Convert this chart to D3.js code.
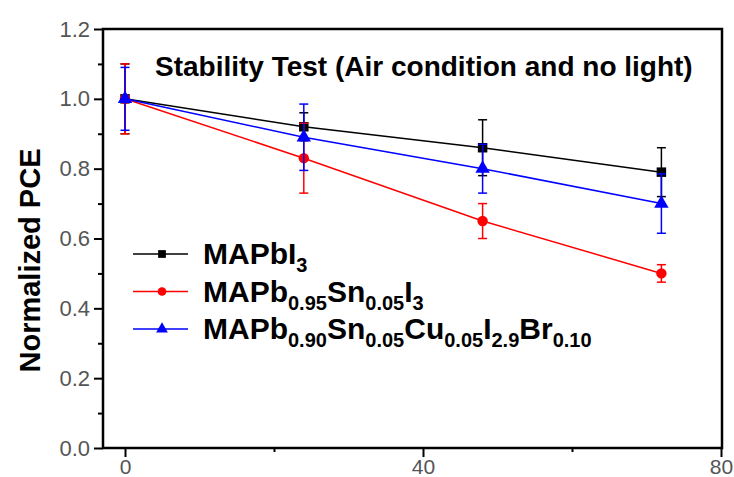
<!DOCTYPE html>
<html>
<head>
<meta charset="utf-8">
<script src="https://cdn.jsdelivr.net/npm/d3@7"></script>
<style>
  body { margin: 0; background: #fff; }
  svg { font-family: "Liberation Sans", Arial, sans-serif; }
  .tick text { fill: #555; }
</style>
</head>
<body>
<div id="chart"></div>
<script>
const hours = [0, 24, 48, 72];
const pbI3 = [1.0, 0.92, 0.86, 0.79];
const pbI3Err = [0.1, 0.04, 0.08, 0.07];
const pbSn = [1.0, 0.83, 0.65, 0.50];
const pbSnErr = [0.1, 0.1, 0.05, 0.025];
const pbSnCu = [1.0, 0.89, 0.80, 0.70];
const pbSnCuErr = [0.09, 0.095, 0.07, 0.085];
const yTicks = [0, 0.2, 0.4, 0.6, 0.8, 1.0, 1.2];
const yMinor = [0.1, 0.3, 0.5, 0.7, 0.9, 1.1];
const xTicks = [0, 40, 80];
const xMinor = [20, 60];

// legend labels: [text, isSubscript]
const series = [
  { name: [['MAPbI', 0], ['3', 1]], values: pbI3, err: pbI3Err, color: '#000', marker: 'square' },
  { name: [['MAPb', 0], ['0.95', 1], ['Sn', 0], ['0.05', 1], ['I', 0], ['3', 1]],
    values: pbSn, err: pbSnErr, color: '#ff0000', marker: 'circle' },
  { name: [['MAPb', 0], ['0.90', 1], ['Sn', 0], ['0.05', 1], ['Cu', 0], ['0.05', 1], ['I', 0], ['2.9', 1], ['Br', 0], ['0.10', 1]],
    values: pbSnCu, err: pbSnCuErr, color: '#0000ff', marker: 'triangle' },
];

const width = 734;
const height = 477;
const margin = { top: 29, right: 12, bottom: 29, left: 103 };

const x = d3.scaleLinear().domain([0, 80]).range([125, 721]);
const y = d3.scaleLinear().domain([0, 1.2]).range([height - margin.bottom, margin.top]);

const svg = d3.select('#chart').append('svg')
  .attr('width', width)
  .attr('height', height);

const symbols = {
  square: d3.symbol().type(d3.symbolSquare).size(90),
  circle: d3.symbol().type(d3.symbolCircle).size(85),
  triangle: d3.symbol().type(d3.symbolTriangle).size(90),
};

// y axis, major and minor ticks
svg.append('g')
  .attr('transform', `translate(${margin.left}, 0)`)
  .call(d3.axisLeft(y).tickValues(yTicks).tickSize(9).tickPadding(4)
    .tickFormat(d3.format('.1f')))
  .call(g => g.select('.domain').remove())
  .call(g => g.selectAll('line').attr('stroke', '#000').attr('stroke-width', 2))
  .call(g => g.selectAll('text').style('font-size', '22px'));

svg.append('g')
  .attr('transform', `translate(${margin.left}, 0)`)
  .call(d3.axisLeft(y).tickValues(yMinor).tickSize(5).tickFormat(''))
  .call(g => g.select('.domain').remove())
  .call(g => g.selectAll('line').attr('stroke', '#000').attr('stroke-width', 2));

// x axis
svg.append('g')
  .attr('transform', `translate(0, ${y(0)})`)
  .call(d3.axisBottom(x).tickValues(xTicks).tickSize(9).tickPadding(2))
  .call(g => g.select('.domain').remove())
  .call(g => g.selectAll('line').attr('stroke', '#000').attr('stroke-width', 2))
  .call(g => g.selectAll('text').style('font-size', '21px'));

svg.append('g')
  .attr('transform', `translate(0, ${y(0)})`)
  .call(d3.axisBottom(x).tickValues(xMinor).tickSize(4).tickFormat(''))
  .call(g => g.select('.domain').remove())
  .call(g => g.selectAll('line').attr('stroke', '#000').attr('stroke-width', 2));

// frame
svg.append('rect')
  .attr('x', margin.left)
  .attr('y', y(1.2))
  .attr('width', x(80) + 1 - margin.left)
  .attr('height', y(0) - y(1.2))
  .attr('fill', 'none')
  .attr('stroke', '#000')
  .attr('stroke-width', 2.5);

// y label
svg.append('text')
  .attr('transform', `translate(40, ${(y(0) + y(1.2)) / 2 + 22})rotate(-90)`)
  .attr('text-anchor', 'middle')
  .style('font-size', '29px')
  .style('font-weight', 'bold')
  .text('Normalized PCE');

// title
svg.append('text')
  .attr('x', 155)
  .attr('y', 76)
  .style('font-size', '28px')
  .style('font-weight', 'bold')
  .text('Stability Test (Air condition and no light)');

const line = d3.line()
  .x((d, i) => x(hours[i]))
  .y(d => y(d));

series.forEach((s) => {
  const g = svg.append('g');
  g.append('path')
    .datum(s.values)
    .attr('d', line)
    .attr('fill', 'none')
    .attr('stroke', s.color)
    .attr('stroke-width', 1.5);

  const bars = g.selectAll('.err')
    .data(s.values)
    .enter().append('g')
    .attr('class', 'err');
  bars.append('line')
    .attr('x1', (d, i) => x(hours[i]))
    .attr('x2', (d, i) => x(hours[i]))
    .attr('y1', (d, i) => y(d + s.err[i]))
    .attr('y2', (d, i) => y(d - s.err[i]))
    .attr('stroke', s.color)
    .attr('stroke-width', 1.5);
  [1, -1].forEach((sign) => {
    bars.append('line')
      .attr('x1', (d, i) => x(hours[i]) - 4.5)
      .attr('x2', (d, i) => x(hours[i]) + 4.5)
      .attr('y1', (d, i) => y(d + sign * s.err[i]))
      .attr('y2', (d, i) => y(d + sign * s.err[i]))
      .attr('stroke', s.color)
      .attr('stroke-width', 1.5);
  });

  g.selectAll('.pt')
    .data(s.values)
    .enter().append('path')
    .attr('class', 'pt')
    .attr('d', symbols[s.marker])
    .attr('transform', (d, i) => `translate(${x(hours[i])}, ${y(d)})`)
    .attr('fill', s.color);
});

// legend
const legend = svg.selectAll('.legend')
  .data(series)
  .enter().append('g')
  .attr('class', 'legend')
  .attr('transform', (d, i) => `translate(133, ${254 + i * 37.5})`);

legend.append('line')
  .attr('x1', 0)
  .attr('x2', 55)
  .attr('stroke', d => d.color)
  .attr('stroke-width', 1.5);

legend.append('path')
  .attr('d', d => symbols[d.marker].size(60)())
  .attr('transform', 'translate(29, 0)')
  .attr('fill', d => d.color);

const label = legend.append('text')
  .attr('x', 70)
  .attr('y', 10)
  .style('font-size', '30px')
  .style('font-weight', 'bold');

label.selectAll('tspan')
  .data(d => d.name)
  .enter().append('tspan')
  .text(d => d[0])
  .style('font-size', d => (d[1] ? '20px' : '30px'))
  .attr('dy', (d, i) => {
    if (d[1]) return 8;
    return i > 0 ? -8 : 0;
  });
</script>
</body>
</html>
